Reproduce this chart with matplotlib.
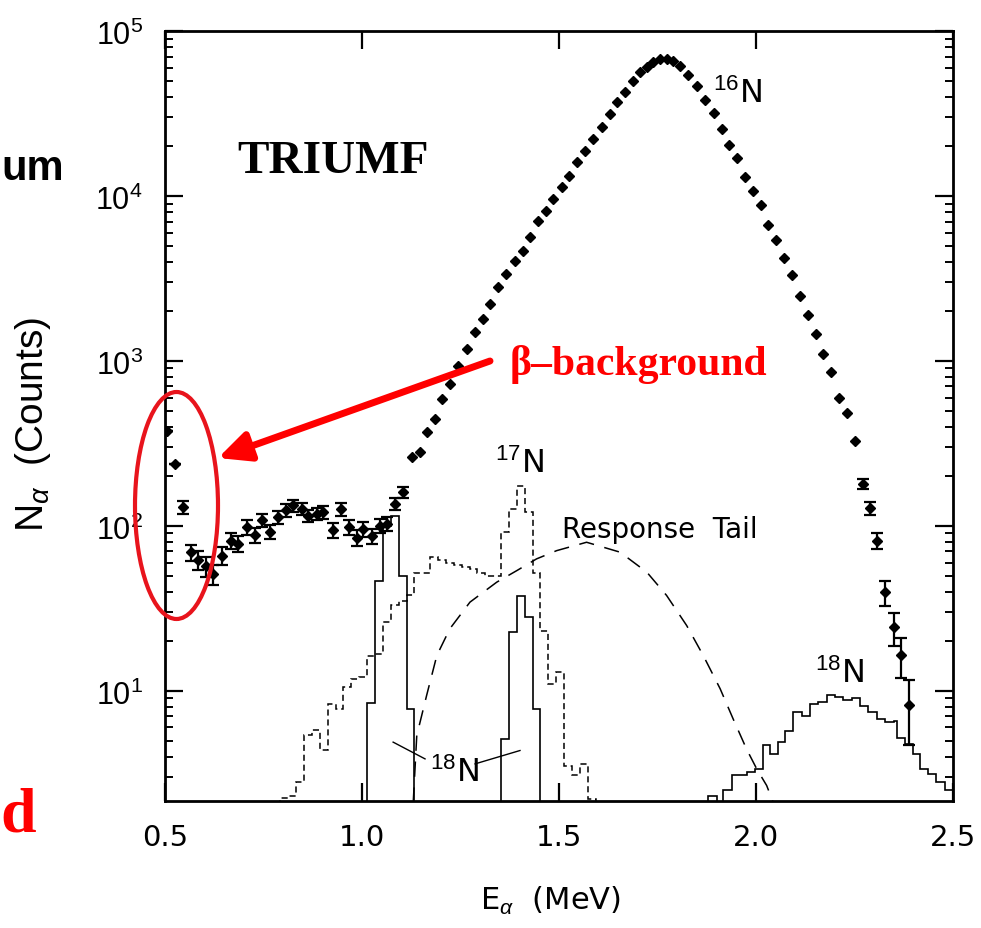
import numpy as np
import matplotlib
matplotlib.use("Agg")
import matplotlib.pyplot as plt
from matplotlib.patches import Ellipse
from matplotlib.ticker import LogLocator, NullFormatter, NullLocator, FuncFormatter

plt.rcParams['font.family'] = ['DejaVu Sans']
plt.rcParams['mathtext.fontset'] = 'custom'
plt.rcParams['mathtext.rm'] = 'Liberation Sans'
plt.rcParams['mathtext.it'] = 'Liberation Sans:italic'
plt.rcParams['mathtext.bf'] = 'Liberation Sans:bold'

# measured spectrum, low energy part (with error bars)
e_low = [0.504, 0.525, 0.546, 0.566, 0.585, 0.604, 0.623, 0.644, 0.667, 0.686,
         0.707, 0.728, 0.745, 0.766, 0.788, 0.807, 0.826, 0.847, 0.864, 0.885,
         0.902, 0.926, 0.947, 0.968, 0.987, 1.003, 1.025, 1.046, 1.063, 1.084, 1.105]
n_low = [378, 238, 130, 69, 62, 57, 51, 66, 81, 78,
         98, 88, 108, 92, 113, 124, 133, 127, 115, 118,
         121, 94, 126, 98, 85, 96, 87, 100, 103, 136, 160]
err_low = [0, 0, 12, 8, 8, 8, 7, 8, 9, 9,
           10, 9, 10, 9, 10, 11, 11, 11, 10, 10,
           11, 10, 11, 10, 9, 10, 9, 10, 10, 11, 12]

# 16N peak (errors smaller than the symbols)
e_peak = [1.126, 1.147, 1.164, 1.185, 1.202, 1.223, 1.244, 1.266, 1.287, 1.308,
          1.325, 1.346, 1.365, 1.388, 1.408, 1.426, 1.447, 1.466, 1.486, 1.507,
          1.526, 1.545, 1.566, 1.587, 1.608, 1.629, 1.648, 1.668, 1.689, 1.706,
          1.723, 1.739, 1.756, 1.773, 1.790, 1.807, 1.828, 1.849, 1.871, 1.893,
          1.913, 1.931, 1.951, 1.972, 1.992, 2.012, 2.031, 2.051, 2.071, 2.091,
          2.112, 2.131, 2.152, 2.170, 2.190, 2.210, 2.230, 2.251]
n_peak = [261, 280, 370, 445, 589, 726, 938, 1183, 1493, 1799,
          2213, 2799, 3365, 4055, 4667, 5623, 7079, 8147, 9594, 11300,
          13270, 16000, 18840, 22130, 26060, 31410, 36980, 42460, 50000, 56230,
          60260, 64570, 67610, 67610, 66070, 61660, 54100, 46700, 38200, 31840,
          25470, 20460, 16900, 13090, 10660, 8850, 6670, 5410, 4210, 3330,
          2490, 1910, 1460, 1100, 853, 597, 482, 329]

# high energy end of the spectrum
e_tail = [2.271, 2.289, 2.308, 2.327, 2.349, 2.368, 2.389]
n_tail = [180, 128, 81.5, 39.6, 24.3, 16.4, 8.2]
err_tail = [12, 11, 9, 7, 5.5, 4.5, 3.5]

# 17N simulated spectrum (dashed histogram), 0.02 MeV bins from 0.793 MeV
n17_start = 0.793
n17_counts = [2.25, 2.3, 2.8, 5.4, 5.8, 4.4, 8.3, 7.8, 10.5, 11.8,
              12.2, 16.2, 16.8, 26, 33, 35, 38, 52, 52, 65,
              62, 60, 58, 56, 55, 52, 50, 50, 92, 127,
              175, 121, 52, 23, 11, 13, 3.5, 3.1, 3.6, 2.2]

# 18N peaks (solid histograms)
n18a_start = 1.013
n18a_counts = [8.5, 46.6, 100, 115, 50, 7.8]
n18b_start = 1.353
n18b_counts = [5.1, 22.7, 37.8, 28, 7.8]
bin_w = 0.02

n18c_edges = [1.879, 1.900, 1.917, 1.938, 1.957, 1.976, 1.997, 2.018, 2.036, 2.057,
              2.074, 2.095, 2.116, 2.137, 2.158, 2.179, 2.201, 2.222, 2.243, 2.264,
              2.285, 2.306, 2.327, 2.349, 2.357, 2.378, 2.399, 2.416, 2.437, 2.458,
              2.480, 2.501]
n18c_counts = [2.32, 1.0, 2.49, 3.07, 3.1, 3.21, 3.37, 4.67, 4.15, 4.89,
               5.74, 7.43, 7.08, 8.34, 8.53, 9.46, 9.17, 8.85, 9.03, 8.15,
               7.43, 6.77, 6.45, 6.6, 5.2, 4.78, 4.15, 3.37, 3.14, 2.80, 2.49]

# response tail
e_resp = [1.130, 1.139, 1.164, 1.190, 1.223, 1.274, 1.342, 1.393, 1.443, 1.494,
          1.570, 1.655, 1.723, 1.773, 1.824, 1.866, 1.909, 1.942, 1.976, 2.002,
          2.027, 2.044]
n_resp = [2.1, 5.36, 9.38, 16.4, 23.8, 34.5, 45.6, 53.6, 63.1, 70.8,
          79.6, 69.3, 52.4, 37.9, 24.9, 16.4, 10.3, 6.76, 4.44, 3.36,
          2.67, 2.1]

W, H = 981, 929


def fx(x):
    return x / W


def fy(y):
    return 1 - y / H


fig = plt.figure(figsize=(W / 100, H / 100), dpi=100)
ax = fig.add_axes([fx(165), fy(802), (953 - 165) / W, (802 - 32) / H])
ax.set_yscale('log')

# histograms
edges17 = np.round(n17_start + bin_w * np.arange(len(n17_counts) + 1), 3)
ax.stairs(n17_counts, edges17, baseline=1, color='black', lw=1.1,
          linestyle=(0, (4, 2.5)))
edges18a = np.round(n18a_start + bin_w * np.arange(len(n18a_counts) + 1), 3)
ax.stairs(n18a_counts, edges18a, baseline=1, color='black', lw=1.2)
edges18b = np.round(n18b_start + bin_w * np.arange(len(n18b_counts) + 1), 3)
ax.stairs(n18b_counts, edges18b, baseline=1, color='black', lw=1.2)
ax.stairs(n18c_counts, n18c_edges, baseline=1, color='black', lw=1.2)

# response tail
ax.plot(e_resp, n_resp, color='black', lw=1.1, dashes=(10, 7))

# data points
ax.errorbar(e_low, n_low, yerr=err_low, fmt='D', color='black', ms=5.5,
            capsize=4, elinewidth=1.6, capthick=1.6)
ax.plot(e_peak, n_peak, 'D', color='black', ms=5.5)
ax.errorbar(e_tail, n_tail, yerr=err_tail, fmt='D', color='black', ms=5.5,
            capsize=4, elinewidth=1.6, capthick=1.6)

ax.set_xlim(0.5, 2.5)
ax.set_ylim(2.15, 1e5)
ax.set_xticks([0.5, 1.0, 1.5, 2.0, 2.5])
ax.set_xticklabels(['0.5', '1.0', '1.5', '2.0', '2.5'], fontsize=21)
ax.xaxis.set_minor_locator(NullLocator())
ax.yaxis.set_major_locator(LogLocator(base=10, numticks=10))
ax.yaxis.set_major_formatter(FuncFormatter(lambda v, p: r'$\mathrm{10^{%d}}$' % round(np.log10(v))))
ax.yaxis.set_minor_locator(LogLocator(base=10, subs=np.arange(2, 10), numticks=20))
ax.yaxis.set_minor_formatter(NullFormatter())
ax.tick_params(which='both', direction='in', top=True, right=True)
ax.tick_params(which='major', length=13, width=1.6)
ax.tick_params(axis='y', which='major', labelsize=22, pad=16)
ax.tick_params(axis='x', which='major', pad=16)
ax.tick_params(which='minor', length=6, width=1.4)
for s in ax.spines.values():
    s.set_linewidth(2.0)

# isotope labels
lab = dict(fontsize=23, color='black', ha='left', va='baseline')
ax.text(1.891, 37150, r'$^{16}$N', **lab)
ax.text(1.338, 212, r'$^{17}$N', **lab)
ax.text(1.173, 2.86, r'$^{18}$N', **lab)
ax.text(2.150, 11.3, r'$^{18}$N', **lab)
ax.text(1.508, 85.7, 'Response  Tail', fontsize=20, ha='left', va='baseline')
ax.plot([1.079, 1.160], [4.89, 3.87], color='black', lw=1.0)
ax.plot([1.287, 1.401], [3.61, 4.35], color='black', lw=1.0)

# axis labels
fig.text(fx(551), fy(910), r'E$_\alpha$  (MeV)', fontsize=22, ha='center', va='baseline')
fig.text(fx(33), fy(424), r'N$_\alpha$  (Counts)', fontsize=28, rotation=90,
         family='Liberation Sans', ha='center', va='center')

# slide overlays
fig.text(fx(333), fy(162), 'TRIUMF', family='Liberation Serif', weight='bold',
         fontsize=34, ha='center', va='center')
fig.text(fx(510), fy(375), '\u03b2\u2013background', family='Liberation Serif',
         weight='bold', fontsize=30, color='#ff0000', ha='left', va='baseline')
fig.text(fx(1), fy(180), 'um', family='Liberation Sans', weight='bold', fontsize=30,
         ha='left', va='baseline')
fig.text(fx(0), fy(832), 'd', family='Liberation Serif', weight='bold', fontsize=46,
         color='#ff0000', ha='left', va='baseline')

fig.add_artist(Ellipse((fx(176.5), fy(506.5)), 83 / W, 227 / H,
                       transform=fig.transFigure, fill=False,
                       edgecolor='#e8141c', lw=3))
ax.annotate('', xy=(218, H - 459), xytext=(490, H - 362),
            xycoords='figure pixels', textcoords='figure pixels',
            arrowprops=dict(arrowstyle='-|>,head_length=1.9,head_width=0.9',
                            color='#ff0000', lw=5, shrinkA=0, shrinkB=0))

fig.savefig('out.png', dpi=100)
